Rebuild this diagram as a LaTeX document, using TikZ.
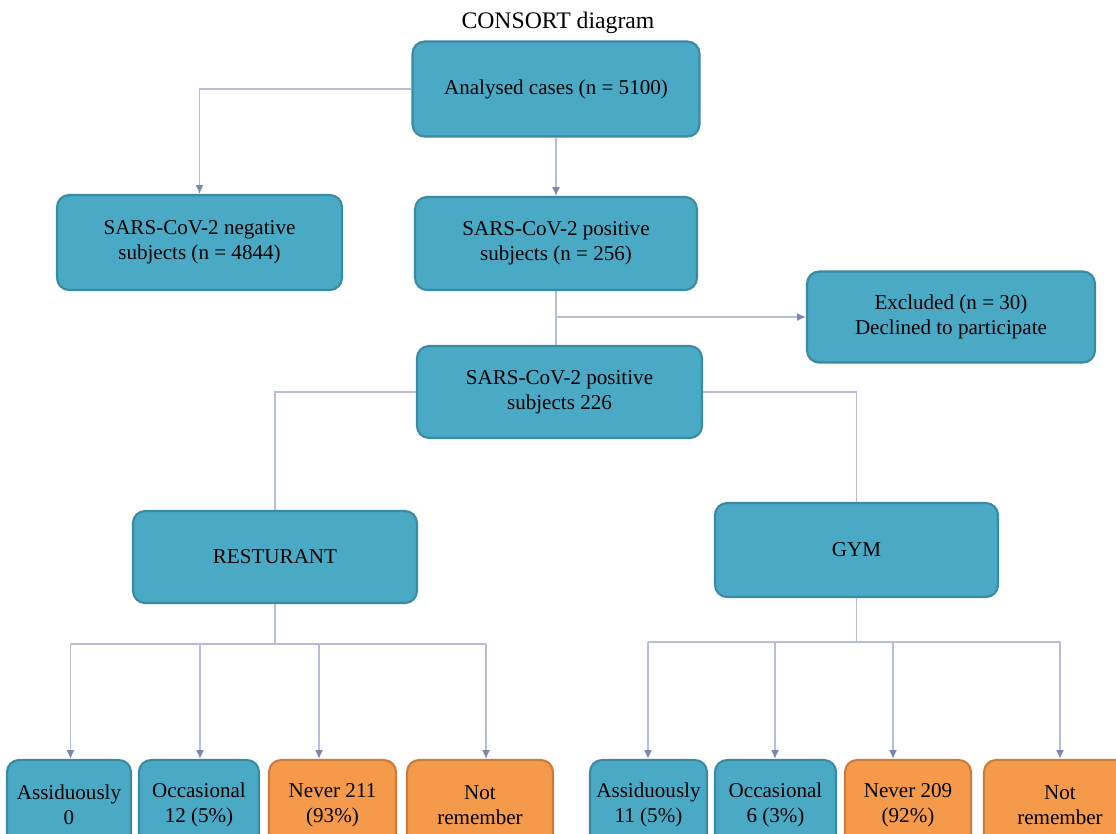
\documentclass[tikz,border=0pt]{standalone}
\usepackage{fontspec}
\setmainfont{Liberation Serif}
\usetikzlibrary{arrows.meta}

\definecolor{boxblue}{HTML}{4AAAC6}
\definecolor{boxline}{HTML}{3A8AA2}
\definecolor{orfill}{HTML}{F59A4B}
\definecolor{orline}{HTML}{C97C3C}
\definecolor{linkgray}{HTML}{B9BED8}
\definecolor{tipgray}{HTML}{7A86AE}

\tikzset{
  bluebox/.style={draw=boxline, fill=boxblue, rounded corners=0.24cm, line width=1.2pt,
    align=center, inner sep=2pt, font=\rmfamily\fontsize{12}{14.2}\selectfont},
  orbox/.style={bluebox, draw=orline, fill=orfill},
  link/.style={draw=linkgray, line width=0.9pt},
  tip/.style={link, -{Latex[length=5pt,width=4.5pt,color=tipgray]}},
}

\begin{document}
\begin{tikzpicture}[x=0.02cm, y=-0.02cm]
  \path[use as bounding box] (0,0) rectangle (1116,833);
  \clip (0,0) rectangle (1116,833);

  \node[font=\rmfamily\fontsize{13.5}{16}\selectfont] (title) at (558,23) {CONSORT diagram}; % title

  % upper boxes
  \node[bluebox, minimum width=5.74cm, minimum height=1.9cm] (analysed) at (556,89) {Analysed cases (n = 5100)};
  \node[bluebox, minimum width=5.7cm, minimum height=1.9cm] (neg) at (199.5,242.5) {SARS-CoV-2 negative\\subjects (n = 4844)};
  \node[bluebox, minimum width=5.64cm, minimum height=1.86cm] (pos) at (556,243.5) {SARS-CoV-2 positive\\subjects (n = 256)};
  \node[bluebox, minimum width=5.76cm, minimum height=1.82cm] (excl) at (951,317) {Excluded (n = 30)\\Declined to participate};
  \node[bluebox, minimum width=5.7cm, minimum height=1.84cm] (pos2) at (559.5,392) {SARS-CoV-2 positive\\subjects 226};

  % the two groups
  \node[bluebox, minimum width=5.68cm, minimum height=1.84cm] (rest) at (275,557) {RESTURANT};
  \node[bluebox, minimum width=5.66cm, minimum height=1.88cm] (gym) at (856.5,550) {GYM};

  % bottom row, restaurant
  \node[bluebox, minimum width=2.48cm, minimum height=1.8cm] (r1) at (69,805) {Assiduously\\0};
  \node[bluebox, minimum width=2.4cm, minimum height=1.8cm] (r2) at (199,805) {Occasional\\12 (5\%)};
  \node[orbox, minimum width=2.54cm, minimum height=1.8cm] (r3) at (332.5,805) {Never 211\\(93\%)};
  \node[orbox, minimum width=2.92cm, minimum height=1.8cm] (r4) at (480,805) {Not\\remember};

  % bottom row, gym
  \node[bluebox, minimum width=2.34cm, minimum height=1.8cm] (g1) at (648.5,805) {Assiduously\\11 (5\%)};
  \node[bluebox, minimum width=2.42cm, minimum height=1.8cm] (g2) at (775.5,805) {Occasional\\6 (3\%)};
  \node[orbox, minimum width=2.52cm, minimum height=1.8cm] (g3) at (908,805) {Never 209\\(92\%)};
  \node[orbox, minimum width=3.04cm, minimum height=1.8cm] (g4) at (1060,805) {Not\\remember};

  % connectors
  \draw[tip] (analysed.west) -| (neg.north);
  \draw[tip] (analysed.south) -- (pos.north);
  \draw[link] (pos.south) -- (pos.south |- pos2.north);
  \coordinate (split) at (pos.south |- excl.west);
  \draw[tip] (split) -- (excl.west);
  \draw[link] (pos2.west) -| (rest.north);
  \draw[link] (pos2.east) -| (gym.north);

  \coordinate (rbar) at (275,644);
  \coordinate (rb1) at (70.5,644);
  \coordinate (rb2) at (200,644);
  \coordinate (rb3) at (319,644);
  \coordinate (rb4) at (486,644);
  \draw[link] (rest.south) -- (rbar);
  \draw[link] (rb1) -- (rb4);
  \foreach \b/\n in {rb1/r1, rb2/r2, rb3/r3, rb4/r4}
    \draw[tip] (\b) -- (\b |- \n.north);

  \coordinate (gbar) at (856.5,642);
  \coordinate (gb1) at (648,642);
  \coordinate (gb2) at (775,642);
  \coordinate (gb3) at (893,642);
  \coordinate (gb4) at (1060,642);
  \draw[link] (gym.south) -- (gbar);
  \draw[link] (gb1) -- (gb4);
  \foreach \b/\n in {gb1/g1, gb2/g2, gb3/g3, gb4/g4}
    \draw[tip] (\b) -- (\b |- \n.north);
\end{tikzpicture}
\end{document}
